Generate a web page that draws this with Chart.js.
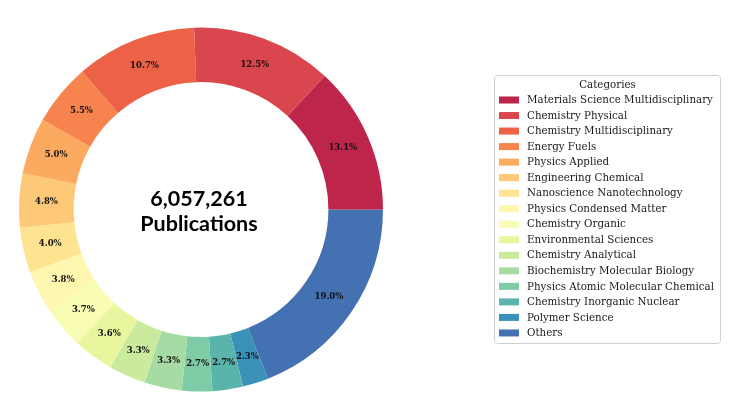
<!DOCTYPE html>
<html>
<head>
<meta charset="utf-8">
<script src="https://cdn.jsdelivr.net/npm/chart.js@4"></script>
<style>
html,body{margin:0;padding:0;background:#fff;}
#wrap{width:735px;height:398px;position:relative;}
</style>
</head>
<body>
<div id="wrap"><canvas id="c" width="735" height="398"></canvas></div>
<script>
// ---- data ----
const categories = [
  "Materials Science Multidisciplinary",
  "Chemistry Physical",
  "Chemistry Multidisciplinary",
  "Energy Fuels",
  "Physics Applied",
  "Engineering Chemical",
  "Nanoscience Nanotechnology",
  "Physics Condensed Matter",
  "Chemistry Organic",
  "Environmental Sciences",
  "Chemistry Analytical",
  "Biochemistry Molecular Biology",
  "Physics Atomic Molecular Chemical",
  "Chemistry Inorganic Nuclear",
  "Polymer Science",
  "Others"
];
const shares = [13.1, 12.5, 10.7, 5.5, 5.0, 4.8, 4.0, 3.8, 3.7, 3.6, 3.3, 3.3, 2.7, 2.7, 2.3, 19.0];
const totalLabel = "6,057,261";
const centerCaption = "Publications";
const legendTitle = "Categories";
const colors = ["#be254a","#da464d","#ed6246","#f7844e","#fcaa5f","#fdc877","#fee491","#fff6b0",
                "#f8fcb4","#e9f69d","#caea9e","#a7dba4","#7ecba5","#5ab4ab","#3b92b9","#4471b2"];

// matplotlib draws counter-clockwise from 3 o'clock; Chart.js draws clockwise,
// so feed the reversed order starting at 3 o'clock.
const revLabels = categories.slice().reverse();
const revValues = shares.slice().reverse();
const revColors = colors.slice().reverse();

const sliceLabels = {
  id: 'sliceLabels',
  afterDatasetsDraw(chart) {
    const ctx = chart.ctx;
    const meta = chart.getDatasetMeta(0);
    ctx.save();
    ctx.font = 'bold 8.5px "DejaVu Serif"';
    ctx.fillStyle = '#111';
    ctx.textAlign = 'center';
    ctx.textBaseline = 'middle';
    meta.data.forEach((arc, i) => {
      const p = arc.getProps(['x','y','startAngle','endAngle','innerRadius','outerRadius'], true);
      const a = (p.startAngle + p.endAngle) / 2;
      const r = (p.innerRadius + p.outerRadius) / 2;
      ctx.fillText(revValues[i].toFixed(1) + '%', p.x + Math.cos(a) * r, p.y + Math.sin(a) * r);
    });
    // center text
    const arc0 = meta.data[0];
    ctx.font = 'bold 21.5px "Lato"';
    ctx.fillStyle = '#000';
    ctx.textBaseline = 'alphabetic';
    ctx.fillText(totalLabel, arc0.x - 2, arc0.y - 4);
    ctx.fillText(centerCaption, arc0.x - 2, arc0.y + 21);
    ctx.restore();
  }
};

const boxLegend = {
  id: 'boxLegend',
  afterDraw(chart) {
    const ctx = chart.ctx;
    const x0 = 494.5, y0 = 75.5, w = 226, h = 268;
    ctx.save();
    ctx.strokeStyle = '#d0d0d0';
    ctx.lineWidth = 1;
    ctx.beginPath();
    if (ctx.roundRect) ctx.roundRect(x0, y0, w, h, 3); else ctx.rect(x0, y0, w, h);
    ctx.fillStyle = 'rgba(255,255,255,0.8)';
    ctx.fill();
    ctx.stroke();
    ctx.fillStyle = '#1a1a1a';
    ctx.font = '10.3px "DejaVu Serif"';
    ctx.textAlign = 'center';
    ctx.textBaseline = 'middle';
    ctx.fillText(legendTitle, x0 + w / 2, 85);
    ctx.textAlign = 'left';
    categories.forEach((name, i) => {
      const y = 100 + i * 15.53;
      ctx.fillStyle = colors[i];
      ctx.fillRect(499, y - 3.5, 20, 7);
      ctx.fillStyle = '#1a1a1a';
      ctx.fillText(name, 527, y + 0.5);
    });
    ctx.restore();
  }
};

new Chart(document.getElementById('c'), {
  type: 'doughnut',
  data: {
    labels: revLabels,
    datasets: [{
      data: revValues,
      backgroundColor: revColors,
      borderWidth: 0
    }]
  },
  options: {
    responsive: false,
    devicePixelRatio: 1,
    animation: false,
    rotation: 90,
    cutout: '70%',
    layout: { padding: { left: 19, top: 27, right: 352, bottom: 6 } },
    plugins: {
      legend: { display: false },
      tooltip: { enabled: false }
    }
  },
  plugins: [sliceLabels, boxLegend]
});
</script>
</body>
</html>
